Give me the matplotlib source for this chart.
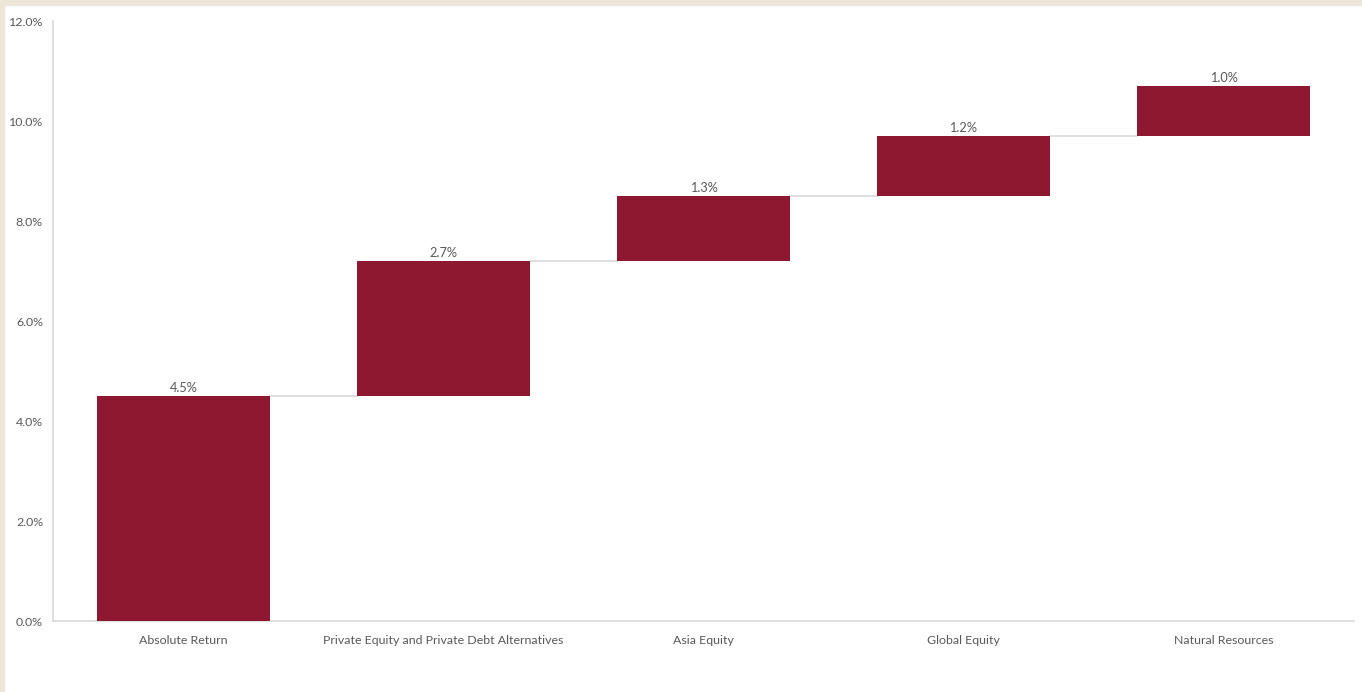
import matplotlib
matplotlib.use("Agg")
import matplotlib.pyplot as plt
from matplotlib.patches import Rectangle

categories = ["Absolute Return", "Private Equity and Private Debt Alternatives",
              "Asia Equity", "Global Equity", "Natural Resources"]
contributions = [4.5, 2.7, 1.3, 1.2, 1.0]
value_labels = ["4.5%", "2.7%", "1.3%", "1.2%", "1.0%"]
y_ticks = [0, 2, 4, 6, 8, 10, 12]
y_tick_labels = ["0.0%", "2.0%", "4.0%", "6.0%", "8.0%", "10.0%", "12.0%"]

bar_color = "#8E1830"
text_color = "#595959"
line_color = "#D9D9D9"

plt.rcParams['font.family'] = ['Lato', 'DejaVu Sans']

W, H = 1362, 692
fig = plt.figure(figsize=(W / 100, H / 100), dpi=100)
fig.patch.set_facecolor("white")
# beige frame strips
fig.patches.append(Rectangle((0, 1 - 5 / H), 1, 5 / H, transform=fig.transFigure,
                             color="#EEE5D9", zorder=-10))
fig.patches.append(Rectangle((0, 0), 4 / W, 1, transform=fig.transFigure,
                             color="#EEE5D9", zorder=-10))

ax = fig.add_axes([53 / W, 71 / H, (1353.5 - 53) / W, 600 / H])

bases = []
cum = 0.0
for v in contributions:
    bases.append(cum)
    cum += v
tops = [b + v for b, v in zip(bases, contributions)]

x = list(range(len(categories)))
width = 0.665
ax.bar(x, contributions, bottom=bases, width=width, color=bar_color, zorder=3)

# connectors
for i in range(len(categories) - 1):
    ax.plot([x[i] + width / 2, x[i + 1] - width / 2], [tops[i], tops[i]],
            color=line_color, lw=1.2, zorder=2)

for xi, t, lab in zip(x, tops, value_labels):
    ax.annotate(lab, (xi, t), xytext=(0, 1.5), textcoords="offset points",
                ha="center", va="bottom", fontsize=9.2, color=text_color)

ax.set_xlim(-0.502, len(categories) - 0.5)
ax.set_ylim(0, 12)
ax.set_yticks(y_ticks)
ax.set_yticklabels(y_tick_labels)
ax.set_xticks(x)
ax.set_xticklabels(categories)
ax.tick_params(axis="both", length=0, colors=text_color, labelsize=8.9)
ax.tick_params(axis="y", pad=7.2)
ax.tick_params(axis="x", pad=10)

for s in ["top", "right"]:
    ax.spines[s].set_visible(False)
for s in ["left", "bottom"]:
    ax.spines[s].set_color(line_color)
    ax.spines[s].set_linewidth(1.2)

fig.savefig("out.png", dpi=100)
